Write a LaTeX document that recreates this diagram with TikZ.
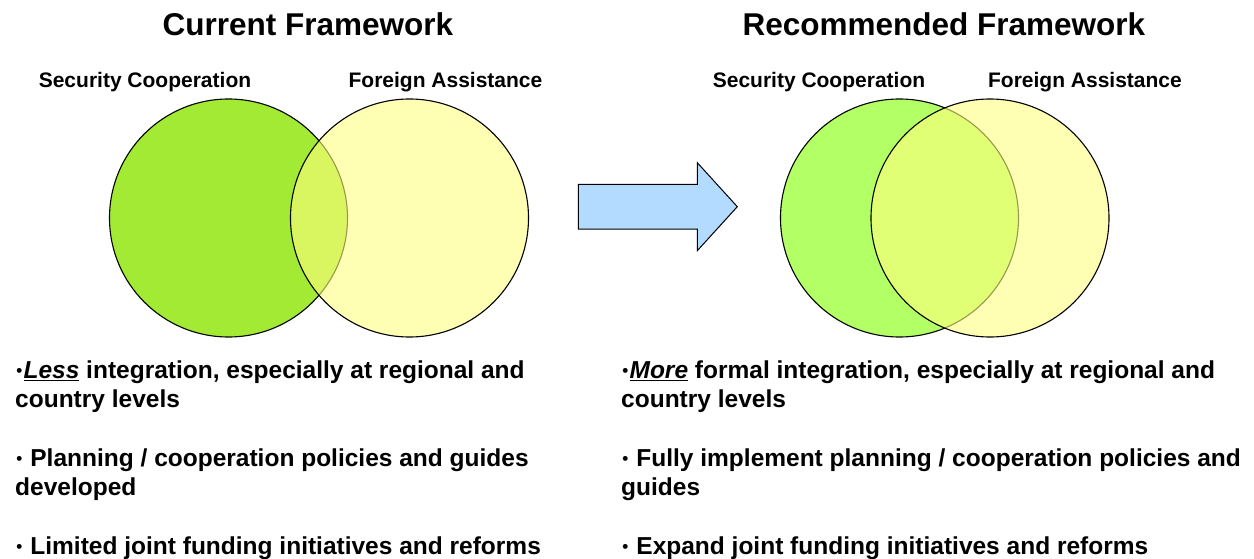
\documentclass[tikz,border=0pt]{standalone}
\usepackage{fontspec}
\setmainfont{Liberation Sans}
\usetikzlibrary{calc}

\definecolor{scgreenA}{HTML}{A2EA34}
\definecolor{scgreenB}{HTML}{B3FF66}
\definecolor{fayellow}{HTML}{FFFF80}
\definecolor{arrowblue}{HTML}{B3DAFF}

% bold italic word with a heavy underline
\newlength\ulwd
\newcommand\ulword[1]{\settowidth\ulwd{\textit{#1}}\rlap{\rule[-3.4pt]{\ulwd}{1.8pt}}\textit{#1}}
% small bullet dot set at mid x-height
\newcommand\dotmark{\makebox[8.4pt]{\raisebox{1.2pt}{\fontsize{17}{17}\selectfont •}}}

\tikzset{
  title/.style={font=\fontsize{31.5}{36}\selectfont\bfseries, anchor=base, inner sep=0},
  setlabel/.style={font=\fontsize{21}{25}\selectfont\bfseries, anchor=base, inner sep=0},
  bodyline/.style={font=\fontsize{24.5}{29.3}\selectfont\bfseries, anchor=base west, inner sep=0},
  venn/.style={circle, draw=black, line width=1.1pt, minimum size=238pt, inner sep=0},
  blockarrow/.style={draw=black, line width=1pt, fill=arrowblue, line join=miter},
}

\begin{document}
\begin{tikzpicture}[x=1pt, y=-1pt]
  \useasboundingbox (0,0) rectangle (1254,559);

  % headings
  \node[title] (curtitle) at (308,35.5) {Current Framework};
  \node[title] (rectitle) at (944,35.5) {Recommended Framework};

  % set labels
  \node[setlabel] (sc1lab) at (145,88) {Security Cooperation};
  \node[setlabel] (fa1lab) at (445.5,88) {Foreign Assistance};
  \node[setlabel] (sc2lab) at (819,88) {Security Cooperation};
  \node[setlabel] (fa2lab) at (1085,88) {Foreign Assistance};

  % current: small overlap
  \node[venn, fill=scgreenA] (sc1) at (228.5,218) {};
  \node[venn, fill=fayellow, fill opacity=0.6] (fa1) at (409.5,218) {};

  % recommended: large overlap
  \node[venn, fill=scgreenB] (sc2) at (899.5,218) {};
  \node[venn, fill=fayellow, fill opacity=0.6] (fa2) at (990,218) {};

  % block arrow between the two frameworks
  \coordinate (arrtail) at (578.3,206.7);
  \coordinate (arrtip) at (737.3,206.7);
  \draw[blockarrow] ($(arrtail)+(0,-22.4)$) -- (697.3,184.3) -- (697.3,162.7)
     -- (arrtip) -- (697.3,250.7) -- (697.3,229.1) -- ($(arrtail)+(0,22.4)$) -- cycle;

  % current framework notes
  \node[bodyline] (c1a) at (15,378) {\dotmark\ulword{Less} integration, especially at regional and};
  \node[bodyline] (c1b) at (15,407.3) {country levels};
  \node[bodyline] (c2a) at (15,466) {\dotmark\ Planning / cooperation policies and guides};
  \node[bodyline] (c2b) at (15,495.3) {developed};
  \node[bodyline] (c3a) at (15,554) {\dotmark\ Limited joint funding initiatives and reforms};

  % recommended framework notes
  \node[bodyline] (r1a) at (621,378) {\dotmark\ulword{More} formal integration, especially at regional and};
  \node[bodyline] (r1b) at (621,407.3) {country levels};
  \node[bodyline] (r2a) at (621,466) {\dotmark\ Fully implement planning / cooperation policies and};
  \node[bodyline] (r2b) at (621,495.3) {guides};
  \node[bodyline] (r3a) at (621,554) {\dotmark\ Expand joint funding initiatives and reforms};
\end{tikzpicture}
\end{document}
